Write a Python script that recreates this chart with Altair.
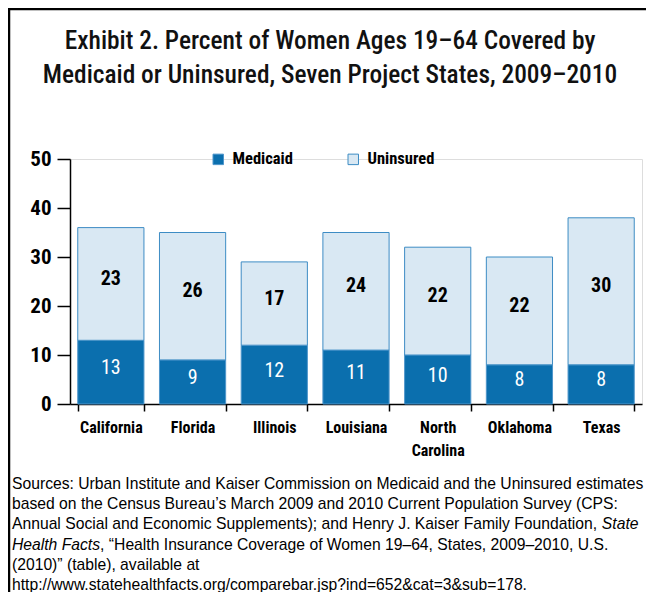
import altair as alt
import pandas as pd

states = ["California", "Florida", "Illinois", "Louisiana", "North Carolina", "Oklahoma", "Texas"]
medicaid = [13, 9, 12, 11, 10, 8, 8]
uninsured = [23, 26, 17, 24, 22, 22, 30]
series = ["Medicaid", "Uninsured"]
y_ticks = [0, 10, 20, 30, 40, 50]

title_lines = [
    "Exhibit 2. Percent of Women Ages 19\u201364 Covered by",
    "Medicaid or Uninsured, Seven Project States, 2009\u20132010",
]
# each source line: list of (text, italic) segments
source_lines = [
    [("Sources: Urban Institute and Kaiser Commission on Medicaid and the Uninsured estimates", False)],
    [("based on the Census Bureau\u2019s March 2009 and 2010 Current Population Survey (CPS:", False)],
    [("Annual Social and Economic Supplements); and Henry J. Kaiser Family Foundation, ", False),
     ("State", True)],
    [("Health Facts", True),
     (", \u201cHealth Insurance Coverage of Women 19\u201364, States, 2009\u20132010, U.S.", False)],
    [("(2010)\u201d (table), available at", False)],
    [("http://www.statehealthfacts.org/comparebar.jsp?ind=652&cat=3&sub=178.", False)],
]

rows = []
for s, m, u in zip(states, medicaid, uninsured):
    rows.append({"state": s, "series": "Medicaid", "value": m, "order": 0})
    rows.append({"state": s, "series": "Uninsured", "value": u, "order": 1})
df = pd.DataFrame(rows)
one = pd.DataFrame({"a": [0]})

COND = "Roboto Condensed"
SANS = "Liberation Sans"
SRC_SIZE = 15.7

# Liberation Sans (Arial-metric) advance widths, used to place italic segments after roman ones
_w = {" ": .278, ",": .278, ".": .278, ")": .333, "(": .333, ";": .278, ":": .278, "J": .5}
for ch in "abdeghnopqu":
    _w[ch] = .556
for ch in "ckvxyzs":
    _w[ch] = .5
_w.update({"f": .278, "t": .278, "i": .222, "j": .222, "l": .222, "m": .833, "r": .333, "w": .722})
_w.update({"A": .667, "S": .667, "E": .667, "H": .722, "K": .667, "F": .611})


def text_width(s, size):
    return sum(_w.get(ch, .556) for ch in s) * size


W, H = 572, 245

xenc = alt.X(
    "state:N",
    sort=states,
    scale=alt.Scale(paddingInner=0.19, paddingOuter=0.095),
    axis=alt.Axis(
        title=None,
        labelAngle=0,
        labelFont=COND,
        labelFontSize=16,
        labelFontWeight="bold",
        labelColor="black",
        labelPadding=8,
        labelLineHeight=23,
        labelExpr="datum.value == 'North Carolina' ? ['North', 'Carolina'] : datum.value",
        tickBand="extent",
        tickSize=7,
        tickColor="black",
        tickWidth=1.5,
        domainColor="black",
        domainWidth=1.5,
        grid=False,
    ),
)

bars = alt.Chart(df).mark_bar(strokeWidth=1).encode(
    x=xenc,
    y=alt.Y(
        "value:Q",
        stack="zero",
        scale=alt.Scale(domain=[0, 50], nice=False),
        axis=alt.Axis(
            title=None,
            values=y_ticks,
            labelFont=COND,
            labelFontSize=21,
            labelFontWeight="bold",
            labelColor="black",
            labelPadding=6,
            tickSize=13,
            tickColor="black",
            tickWidth=1.5,
            domainColor="black",
            domainWidth=1.5,
            grid=False,
        ),
    ),
    color=alt.Color(
        "series:N",
        scale=alt.Scale(domain=series, range=["#0B6FAE", "#D9E8F3"]),
        legend=alt.Legend(
            title=None,
            orient="none",
            legendX=140,
            legendY=-8,
            direction="horizontal",
            symbolType="square",
            symbolSize=110,
            symbolStrokeWidth=1,
            labelFont=COND,
            labelFontSize=16.5,
            labelFontWeight="bold",
            labelColor="black",
            labelOffset=6,
            columnPadding=52,
        ),
    ),
    stroke=alt.Stroke(
        "series:N",
        scale=alt.Scale(domain=series, range=["#4F96CB", "#3D8CC4"]),
        legend=None,
    ),
    order=alt.Order("order:Q"),
)

base_text = alt.Chart(df).transform_stack(
    stack="value", groupby=["state"], as_=["y0", "y1"], sort=[alt.SortField("order")]
).transform_calculate(ymid="(datum.y0 + datum.y1) / 2")

med_text = base_text.transform_filter("datum.series == 'Medicaid'").mark_text(
    font=COND, fontSize=20, color="white", baseline="middle", dy=-4
).encode(
    x=alt.X("state:N", sort=states),
    y=alt.Y("ymid:Q"),
    text=alt.Text("value:Q"),
)

un_text = base_text.transform_filter("datum.series == 'Uninsured'").mark_text(
    font=COND, fontSize=20, fontWeight="bold", color="black", baseline="middle", dy=-5
).encode(
    x=alt.X("state:N", sort=states),
    y=alt.Y("ymid:Q"),
    text=alt.Text("value:Q"),
)

title = alt.Chart(one).mark_text(
    text=title_lines,
    font=COND,
    fontSize=25.4,
    fontWeight=500,
    color="#111111",
    align="center",
    baseline="middle",
    lineHeight=34,
).encode(x=alt.value(260), y=alt.value(-118))

src_layers = []
X0, Y0, LH = -58, 325, 20.2
for i, segs in enumerate(source_lines):
    x = X0
    for txt, ital in segs:
        src_layers.append(
            alt.Chart(one).mark_text(
                text=txt,
                font=SANS,
                fontSize=SRC_SIZE,
                fontStyle="italic" if ital else "normal",
                color="black",
                align="left",
                baseline="middle",
            ).encode(x=alt.value(x), y=alt.value(Y0 + i * LH))
        )
        x += text_width(txt, SRC_SIZE)

frame_top = alt.Chart(one).mark_rule(color="black", strokeWidth=2.5).encode(
    x=alt.value(-62), x2=alt.value(W + 4), y=alt.value(-150), y2=alt.value(-150)
)
frame_left = alt.Chart(one).mark_rule(color="black", strokeWidth=2.5).encode(
    x=alt.value(-61), x2=alt.value(-61), y=alt.value(-151), y2=alt.value(H + 190)
)

chart = alt.layer(bars, med_text, un_text, title, *src_layers, frame_top, frame_left).properties(
    width=W,
    height=H,
    autosize=alt.AutoSizeParams(type="none"),
    padding={"left": 62, "top": 151, "right": 4, "bottom": 188},
).configure_view(stroke=None).configure(background="white")

chart.save("out.html", embed_options={"renderer": "svg", "actions": False})
